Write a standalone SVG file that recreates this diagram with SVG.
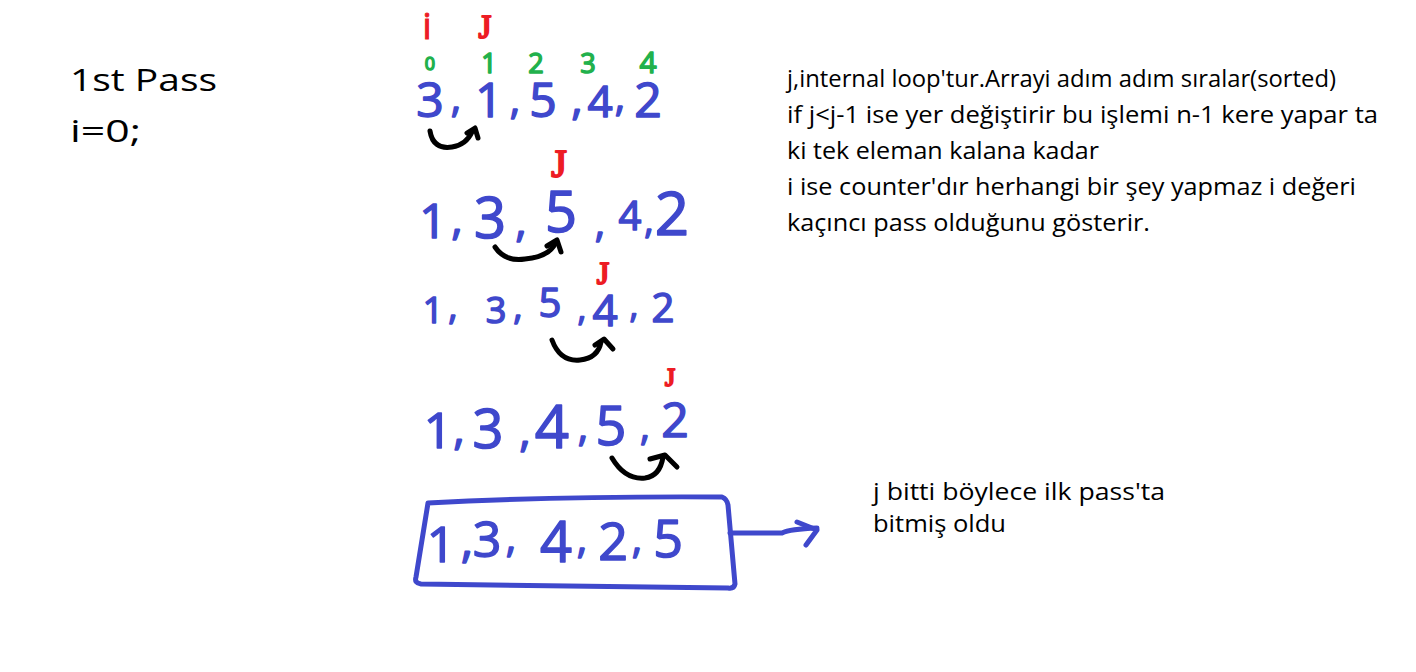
<svg xmlns="http://www.w3.org/2000/svg" width="1416" height="672" viewBox="0 0 1416 672">
<style>
.t{font-family:"Open Sans","Noto Sans",sans-serif;fill:#000;}
.b{font-family:"Open Sans","Liberation Sans",sans-serif;fill:#3f48cc;stroke:#3f48cc;stroke-width:1.5;stroke-linejoin:round;text-anchor:middle;}
.g{font-family:"Open Sans","Liberation Sans",sans-serif;fill:#22b14c;stroke:#22b14c;stroke-width:1.5;stroke-linejoin:round;text-anchor:middle;}
.r{font-family:"Liberation Serif",serif;fill:#ed1c24;stroke:#ed1c24;stroke-width:2;stroke-linejoin:round;text-anchor:middle;}
.ri{font-family:"Open Sans","Liberation Sans",sans-serif;fill:#ed1c24;stroke:#ed1c24;stroke-width:1;text-anchor:middle;}
.k{fill:none;stroke:#000;stroke-width:5;stroke-linecap:round;stroke-linejoin:round;}
.bl{fill:none;stroke:#3f48cc;stroke-width:5;stroke-linecap:round;stroke-linejoin:round;}
</style>
<rect width="1416" height="672" fill="#fff"/>

<g id="title">
<text class="t" x="70" y="91" font-size="31" textLength="147" lengthAdjust="spacingAndGlyphs">1st Pass</text>
<text class="t" x="70" y="142" font-size="31" textLength="71" lengthAdjust="spacingAndGlyphs">i=0;</text>
</g>

<g id="note">
<text class="t" x="787" y="87" font-size="23" textLength="549" lengthAdjust="spacingAndGlyphs">j,internal loop'tur.Arrayi adım adım sıralar(sorted)</text>
<text class="t" x="787" y="123" font-size="23" textLength="591" lengthAdjust="spacingAndGlyphs">if j&lt;j-1 ise yer değiştirir bu işlemi n-1 kere yapar ta</text>
<text class="t" x="787" y="159" font-size="23" textLength="312" lengthAdjust="spacingAndGlyphs">ki tek eleman kalana kadar</text>
<text class="t" x="787" y="195" font-size="23" textLength="569" lengthAdjust="spacingAndGlyphs">i ise counter'dır herhangi bir şey yapmaz i değeri</text>
<text class="t" x="787" y="231" font-size="23" textLength="363" lengthAdjust="spacingAndGlyphs">kaçıncı pass olduğunu gösterir.</text>
</g>

<g id="note2">
<text class="t" x="873" y="500" font-size="23" textLength="292" lengthAdjust="spacingAndGlyphs">j bitti böylece ilk pass'ta</text>
<text class="t" x="873" y="532" font-size="23" textLength="133" lengthAdjust="spacingAndGlyphs">bitmiş oldu</text>
</g>

<g id="labels">
<text class="ri" x="427" y="39" font-size="36">i</text>
<text class="r" x="485" y="38" font-size="33">J</text>
<text class="g" x="430" y="70" font-size="18">0</text>
<text class="g" x="489" y="73" font-size="27">1</text>
<text class="g" x="536" y="73" font-size="27">2</text>
<text class="g" x="588" y="73" font-size="27">3</text>
<text class="g" x="648" y="73" font-size="30">4</text>
</g>

<g id="row0">
<text class="b" x="430" y="117" font-size="48">3</text>
<text class="b" x="456" y="112" font-size="40">,</text>
<text class="b" x="489" y="117" font-size="48">1</text>
<text class="b" x="515" y="114" font-size="40">,</text>
<text class="b" x="543" y="117" font-size="48">5</text>
<text class="b" x="577" y="114" font-size="44">,</text>
<text class="b" x="600" y="117" font-size="44">4</text>
<text class="b" x="620" y="111" font-size="40">,</text>
<text class="b" x="648" y="117" font-size="48">2</text>
</g>

<g id="row1">
<text class="r" x="559" y="177" font-size="40">J</text>
<text class="b" x="433" y="238" font-size="48">1</text>
<text class="b" x="457" y="234" font-size="44">,</text>
<text class="b" x="490" y="238" font-size="56">3</text>
<text class="b" x="521" y="236" font-size="44">,</text>
<text class="b" x="561" y="232" font-size="56">5</text>
<text class="b" x="600" y="237" font-size="40">,</text>
<text class="b" x="630" y="230" font-size="40">4</text>
<text class="b" x="649" y="233" font-size="36">,</text>
<text class="b" x="672" y="235" font-size="60">2</text>
</g>

<g id="row2">
<text class="r" x="603" y="284" font-size="32">J</text>
<text class="b" x="433" y="323" font-size="36">1</text>
<text class="b" x="453" y="319" font-size="36">,</text>
<text class="b" x="496" y="323" font-size="36">3</text>
<text class="b" x="518" y="319" font-size="36">,</text>
<text class="b" x="550" y="317" font-size="40">5</text>
<text class="b" x="582" y="321" font-size="34">,</text>
<text class="b" x="605" y="326" font-size="44">4</text>
<text class="b" x="634" y="318" font-size="34">,</text>
<text class="b" x="663" y="322" font-size="40">2</text>
</g>

<g id="row3">
<text class="r" x="670" y="386" font-size="26">J</text>
<text class="b" x="438" y="448" font-size="50">1</text>
<text class="b" x="459" y="444" font-size="44">,</text>
<text class="b" x="488" y="448" font-size="54">3</text>
<text class="b" x="525" y="446" font-size="44">,</text>
<text class="b" x="552" y="448" font-size="60">4</text>
<text class="b" x="583" y="441" font-size="40">,</text>
<text class="b" x="611" y="445" font-size="54">5</text>
<text class="b" x="645" y="440" font-size="38">,</text>
<text class="b" x="675" y="437" font-size="48">2</text>
</g>

<g id="result">
<path class="bl" d="M428,503 Q560,496 722,497 Q727,499 728,505 L735,584 Q734,589 728,588 L421,584 Q414,583 416,577 Z"/>
<text class="b" x="441" y="562" font-size="50">1</text>
<text class="b" x="467" y="557" font-size="48">,</text>
<text class="b" x="487" y="557" font-size="50">3</text>
<text class="b" x="511" y="552" font-size="40">,</text>
<text class="b" x="556" y="562" font-size="56">4</text>
<text class="b" x="582" y="553" font-size="40">,</text>
<text class="b" x="613" y="560" font-size="52">2</text>
<text class="b" x="637" y="553" font-size="40">,</text>
<text class="b" x="668" y="557" font-size="52">5</text>
</g>

<g id="connectors">
<path class="k" d="M430,131 Q433,150 452,147 Q466,145 472,132"/>
<path class="k" d="M467,133 L475,128 L478,138"/>
<path class="k" d="M495,247 Q505,262 525,259 Q548,257 555,244"/>
<path class="k" d="M547,246 L557,240 L561,252"/>
<path class="k" d="M552,340 Q560,362 580,360 Q598,358 601,342"/>
<path class="k" d="M595,345 L604,339 L613,349"/>
<path class="k" d="M612,458 Q625,480 645,478 Q660,476 663,457"/>
<path class="k" d="M650,459 L665,455 L677,467"/>
<path class="bl" d="M730,533 L782,533 Q790,529 817,528"/>
<path class="bl" d="M797,522 L817,530 L806,545"/>
</g>
</svg>
